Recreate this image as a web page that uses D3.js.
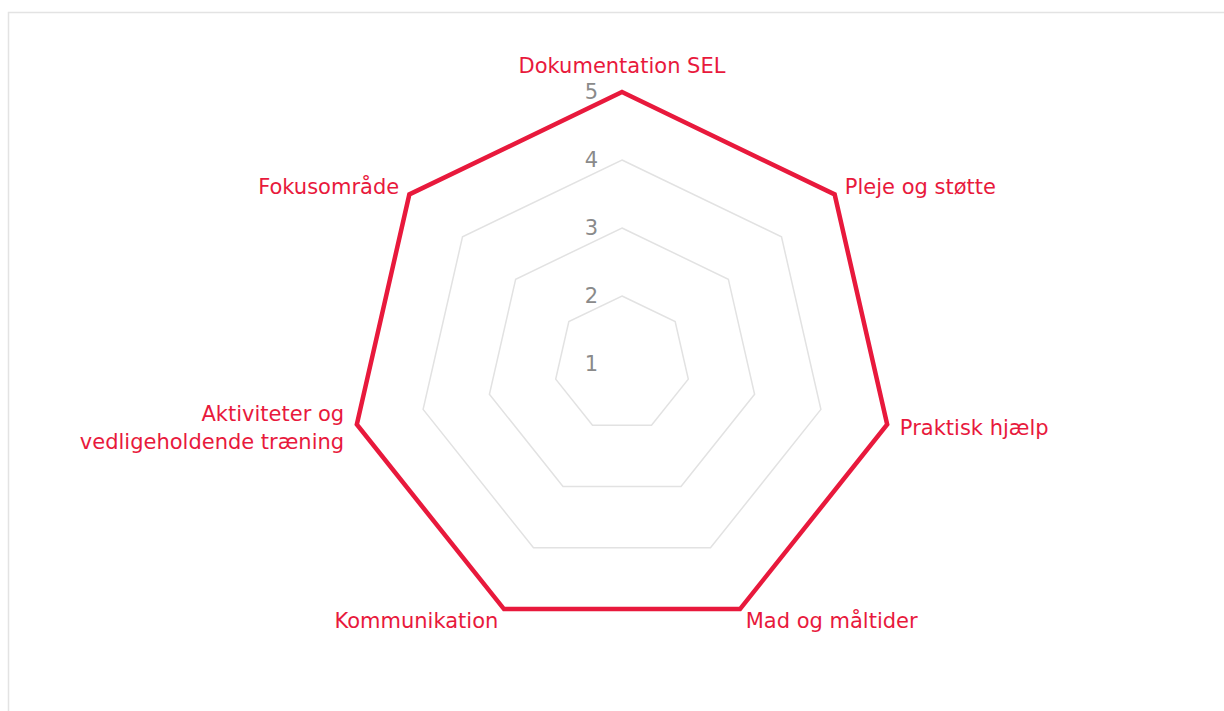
<!DOCTYPE html>
<html lang="da">
<head>
<meta charset="UTF-8">
<title>Radar</title>
<script src="https://d3js.org/d3.v7.min.js"></script>
<style>
    body { margin: 0; background: #fff; }
    text { font-family: "DejaVu Sans", sans-serif; }
</style>
</head>
<body>
<script>
    // chart data
    const categories = [
        "Dokumentation SEL",
        "Pleje og støtte",
        "Praktisk hjælp",
        "Mad og måltider",
        "Kommunikation",
        "Aktiviteter og vedligeholdende træning",
        "Fokusområde"
    ];
    const values = [5, 5, 5, 5, 5, 5, 5];
    const ticks = [1, 2, 3, 4, 5];

    const width = 1224, height = 711;
    const cx = 622, cy = 364, radius = 272;
    const red = "#e8193c";

    const svg = d3.select("body").append("svg")
        .attr("width", width)
        .attr("height", height);

    // light frame
    svg.append("rect")
        .attr("x", 8.5).attr("y", 12.5)
        .attr("width", width).attr("height", height)
        .attr("fill", "none")
        .attr("stroke", "#e3e3e3")
        .attr("stroke-width", 1.5);

    const g = svg.append("g").attr("transform", `translate(${cx},${cy})`);

    const r = d3.scaleLinear().domain([1, 5]).range([0, radius]);
    const angle = d3.scaleLinear().domain([0, categories.length]).range([0, 2 * Math.PI]);

    const pt = (i, v) => [Math.sin(angle(i)) * v, -Math.cos(angle(i)) * v];

    // grid polygons
    g.selectAll(".grid")
        .data(ticks.slice(1))
        .enter().append("polygon")
        .attr("points", t => categories.map((c, i) => pt(i, r(t)).join(",")).join(" "))
        .attr("fill", "none")
        .attr("stroke", "#e2e2e2")
        .attr("stroke-width", 1.5);

    // data line
    g.append("polygon")
        .attr("points", values.map((v, i) => pt(i, r(v)).join(",")).join(" "))
        .attr("fill", "none")
        .attr("stroke", red)
        .attr("stroke-width", 4.5)
        .attr("stroke-linejoin", "miter");

    // tick labels
    g.selectAll(".tick")
        .data(ticks)
        .enter().append("text")
        .attr("x", -24)
        .attr("y", t => -r(t))
        .attr("dy", "0.35em")
        .attr("text-anchor", "end")
        .attr("fill", "#8a8a8a")
        .attr("font-size", 21)
        .text(t => t);

    // category labels
    const wrap = { "Aktiviteter og vedligeholdende træning": ["Aktiviteter og", "vedligeholdende træning"] };
    const lab = g.selectAll(".lab")
        .data(categories)
        .enter().append("text")
        .attr("fill", red)
        .attr("font-size", 21)
        .attr("text-anchor", (c, i) => {
            const s = Math.sin(angle(i));
            return Math.abs(s) < 0.05 ? "middle" : (s > 0 ? "start" : "end");
        })
        .attr("transform", (c, i) => {
            const p = pt(i, radius + 13);
            const up = Math.cos(angle(i)) > 0.99 ? -13 : 0;
            return `translate(${p[0]},${p[1] + up})`;
        });

    lab.each(function (c) {
        const lines = wrap[c] || [c];
        const t = d3.select(this);
        lines.forEach((l, k) => {
            t.append("tspan")
                .attr("x", 0)
                .attr("y", (k - (lines.length - 1) / 2) * 28)
                .attr("dy", "0.35em")
                .text(l);
        });
    });
</script>
</body>
</html>
